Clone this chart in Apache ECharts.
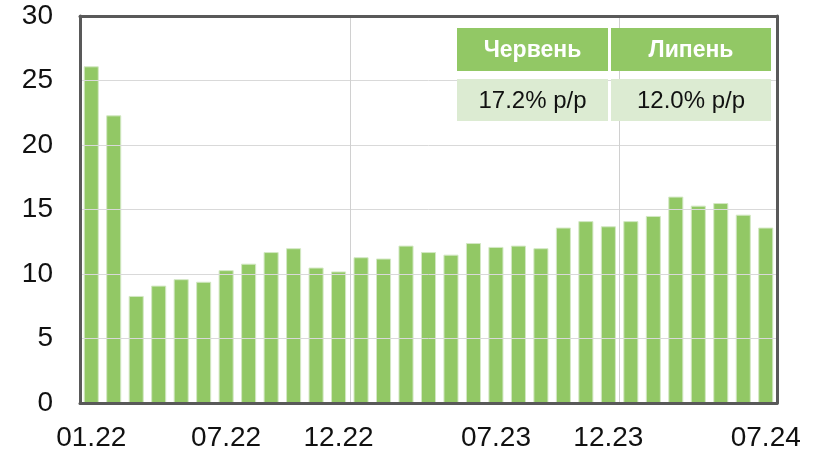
<!DOCTYPE html>
<html>
<head>
<meta charset="utf-8">
<script src="https://cdn.jsdelivr.net/npm/echarts@6/dist/echarts.min.js"></script>
<style>
  html, body { margin: 0; padding: 0; background: #fff; }
  #chart { width: 815px; height: 452px; }
</style>
</head>
<body>
<div id="chart"></div>
<script>
// місяці 01.22 - 07.24
var months = ['01.22','02.22','03.22','04.22','05.22','06.22','07.22','08.22','09.22','10.22','11.22','12.22',
              '01.23','02.23','03.23','04.23','05.23','06.23','07.23','08.23','09.23','10.23','11.23','12.23',
              '01.24','02.24','03.24','04.24','05.24','06.24','07.24'];
var values = [26.1, 22.3, 8.3, 9.1, 9.6, 9.4, 10.3, 10.8, 11.7, 12.0, 10.5, 10.2,
              11.3, 11.2, 12.2, 11.7, 11.5, 12.4, 12.1, 12.2, 12.0, 13.6, 14.1, 13.7,
              14.1, 14.5, 16.0, 15.3, 15.5, 14.6, 13.6];
var shownLabels = ['01.22', '07.22', '12.22', '07.23', '12.23', '07.24'];
var gridLineAfter = ['12.22', '12.23']; // вертикальні лінії після грудня
var yTicks = [0, 5, 10, 15, 20, 25, 30];
var tableHead = ['Червень', 'Липень'];
var tableVals = ['17.2% р/р', '12.0% р/р'];

var green = '#92c865';
var lightGreen = '#dcebd2';
var frame = '#595959';
var font = '"Liberation Sans", Arial';

var chart = echarts.init(document.getElementById('chart'));

// таблиця у правому верхньому куті
var cells = [];
var colX = [457, 611], colW = [151, 160];
for (var i = 0; i < tableHead.length; i++) {
  cells.push({
    type: 'rect', shape: { x: colX[i], y: 28, width: colW[i], height: 43 },
    style: { fill: green }, z: 10
  });
  cells.push({
    type: 'text', x: colX[i] + colW[i] / 2, y: 51,
    style: { text: tableHead[i], fill: '#fff', font: 'bold 23px ' + font, align: 'center', verticalAlign: 'middle' },
    z: 11
  });
  cells.push({
    type: 'rect', shape: { x: colX[i], y: 79, width: colW[i], height: 42 },
    style: { fill: lightGreen }, z: 10
  });
  cells.push({
    type: 'text', x: colX[i] + colW[i] / 2, y: 101,
    style: { text: tableVals[i], fill: '#111', font: '24px ' + font, align: 'center', verticalAlign: 'middle' },
    z: 11
  });
}

var option = {
  backgroundColor: '#fff',
  animation: false,
  grid: { left: 80, right: 38, top: 16, bottom: 49 },
  xAxis: [{
    type: 'category',
    data: months,
    axisLine: { show: true, onZero: false, lineStyle: { color: frame, width: 3 } },
    axisTick: { show: false },
    axisLabel: {
      interval: 0,
      margin: 21,
      color: '#111',
      fontSize: 28,
      fontFamily: font,
      formatter: function (v) { return shownLabels.indexOf(v) >= 0 ? v : ''; }
    },
    splitLine: {
      show: true,
      interval: function (idx) { return gridLineAfter.indexOf(months[idx - 1]) >= 0; },
      lineStyle: { color: '#d0d0d0', width: 1 }
    },
    z: 5
  }, {
    // верхня рамка
    type: 'category', position: 'top', data: months,
    axisLine: { show: true, onZero: false, lineStyle: { color: frame, width: 3 } },
    axisTick: { show: false }, axisLabel: { show: false }, splitLine: { show: false },
    z: 5
  }],
  yAxis: [{
    type: 'value',
    min: 0, max: 30, interval: 5,
    axisLine: { show: true, onZero: false, lineStyle: { color: frame, width: 3 } },
    axisTick: { show: false },
    axisLabel: {
      margin: 27,
      color: '#111',
      fontSize: 28,
      fontFamily: font,
      formatter: function (v) { return yTicks.indexOf(v) >= 0 ? String(v) : ''; }
    },
    splitLine: { lineStyle: { color: '#d9d9d9', width: 1 } },
    z: 5
  }, {
    // права рамка
    type: 'value', position: 'right', min: 0, max: 30, interval: 5,
    axisLine: { show: true, onZero: false, lineStyle: { color: frame, width: 3 } },
    axisTick: { show: false }, axisLabel: { show: false }, splitLine: { show: false },
    z: 5
  }],
  series: [{
    type: 'bar',
    data: values,
    barCategoryGap: '33%',
    itemStyle: { color: green, borderColor: '#d3e8c4', borderWidth: 1 }
  }],
  graphic: cells
};
chart.setOption(option);
</script>
</body>
</html>
